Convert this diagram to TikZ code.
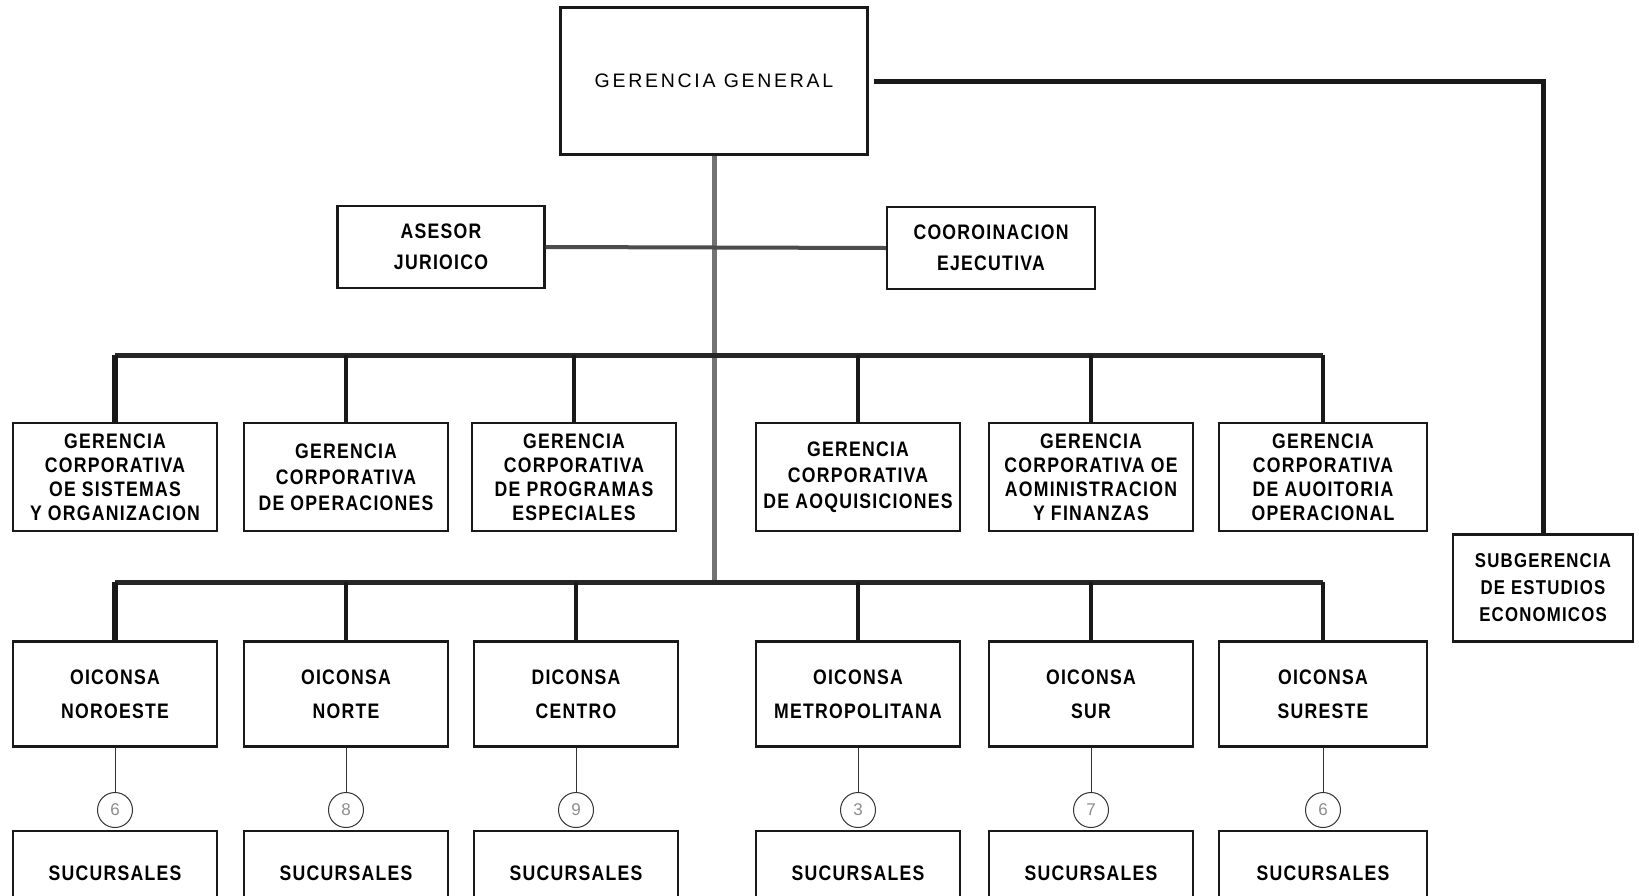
\documentclass[tikz,border=0pt]{standalone}
\usepackage{fontspec}
\setmainfont{Liberation Sans}
\newfontfamily\condfont{Liberation Sans}[FakeStretch=0.84,LetterSpace=6]
\newfontfamily\wideface{Liberation Sans}[LetterSpace=14]
\usetikzlibrary{calc}

\begin{document}
\begin{tikzpicture}[x=1pt,y=-1pt,
  unit/.style={rectangle, draw=black!90, line width=2.2pt, minimum width=204pt,
    align=center, inner sep=0pt, font=\condfont\bfseries\fontsize{21}{24}\selectfont},
  gerbox/.style={unit, minimum height=108pt},
  regbox/.style={unit, minimum height=105pt, font=\condfont\bfseries\fontsize{21}{34}\selectfont},
  sucbox/.style={unit, minimum height=84pt},
  staffbox/.style={unit, minimum width=207pt, minimum height=82pt,
    font=\condfont\bfseries\fontsize{21}{31}\selectfont},
  count/.style={circle, draw=black!80, line width=1pt, minimum size=35pt, inner sep=0pt,
    text=black!45, font=\fontsize{17}{17}\selectfont},
  bus/.style={draw=black!85, line width=5pt},
  drop/.style={draw=black!90, line width=4pt},
  thinlink/.style={draw=black!80, line width=1pt}]

  \useasboundingbox (0,0) rectangle (1639,895);
  \clip (0,0) rectangle (1639,895);

  \coordinate (upbus) at (0,355);
  \coordinate (lowbus) at (0,582);
  \coordinate (knot) at (0,810);

  \node[unit, minimum width=307pt, minimum height=147pt,
    font=\wideface\fontsize{19.5}{22}\selectfont] at (714,81) (gg) {GERENCIA GENERAL};

  \node[staffbox] at (441,247) (ase) {ASESOR\\JURIOICO};
  \node[staffbox, minimum width=208pt] at (991,248) (coo) {COOROINACION\\EJECUTIVA};

  \node[unit, minimum width=180pt, minimum height=107pt,
    font=\condfont\bfseries\fontsize{20}{27}\selectfont] at (1543,588) (sub)
    {SUBGERENCIA\\DE ESTUDIOS\\ECONOMICOS};

  \node[gerbox] at (115,477) (g1) {GERENCIA\\CORPORATIVA\\OE SISTEMAS\\Y ORGANIZACION};
  \node[gerbox, font=\condfont\bfseries\fontsize{21}{26}\selectfont] at (346,477) (g2)
    {GERENCIA\\CORPORATIVA\\DE OPERACIONES};
  \node[gerbox] at (574,477) (g3) {GERENCIA\\CORPORATIVA\\DE PROGRAMAS\\ESPECIALES};
  \node[gerbox, font=\condfont\bfseries\fontsize{21}{26}\selectfont] at (858,477) (g4)
    {GERENCIA\\CORPORATIVA\\DE AOQUISICIONES};
  \node[gerbox] at (1091,477) (g5) {GERENCIA\\CORPORATIVA OE\\AOMINISTRACION\\Y FINANZAS};
  \node[gerbox, minimum width=208pt] at (1323,477) (g6)
    {GERENCIA\\CORPORATIVA\\DE AUOITORIA\\OPERACIONAL};

  \node[regbox] at (115,694) (r1) {OICONSA\\NOROESTE};
  \node[regbox] at (346,694) (r2) {OICONSA\\NORTE};
  \node[regbox] at (576,694) (r3) {DICONSA\\CENTRO};
  \node[regbox] at (858,694) (r4) {OICONSA\\METROPOLITANA};
  \node[regbox] at (1091,694) (r5) {OICONSA\\SUR};
  \node[regbox, minimum width=208pt] at (1323,694) (r6) {OICONSA\\SURESTE};

  \node[count] at (r1.south |- knot) (n1) {6};
  \node[count] at (r2.south |- knot) (n2) {8};
  \node[count] at (r3.south |- knot) (n3) {9};
  \node[count] at (r4.south |- knot) (n4) {3};
  \node[count] at (r5.south |- knot) (n5) {7};
  \node[count] at (r6.south |- knot) (n6) {6};

  \node[sucbox] at (115,873) (s1) {SUCURSALES};
  \node[sucbox] at (346,873) (s2) {SUCURSALES};
  \node[sucbox] at (576,873) (s3) {SUCURSALES};
  \node[sucbox] at (858,873) (s4) {SUCURSALES};
  \node[sucbox] at (1091,873) (s5) {SUCURSALES};
  \node[sucbox, minimum width=208pt] at (1323,873) (s6) {SUCURSALES};

  \draw[draw=black!55, line width=5pt] (gg.south) -- (gg.south |- lowbus);
  \draw[draw=black!70, line width=4pt] (ase.east) -- (coo.west);
  \draw[draw=black!90, line width=5pt] ([xshift=5pt]gg.east) -| (sub.north);

  \draw[bus] (g1.north |- upbus) -- (g6.north |- upbus);
  \draw[drop, line width=6pt] (g1.north |- upbus) -- (g1.north);
  \draw[drop] (g2.north |- upbus) -- (g2.north);
  \draw[drop] (g3.north |- upbus) -- (g3.north);
  \draw[drop] (g4.north |- upbus) -- (g4.north);
  \draw[drop] (g5.north |- upbus) -- (g5.north);
  \draw[drop] (g6.north |- upbus) -- (g6.north);

  \draw[bus] (r1.north |- lowbus) -- (r6.north |- lowbus);
  \draw[drop, line width=6pt] (r1.north |- lowbus) -- (r1.north);
  \draw[drop] (r2.north |- lowbus) -- (r2.north);
  \draw[drop] (r3.north |- lowbus) -- (r3.north);
  \draw[drop] (r4.north |- lowbus) -- (r4.north);
  \draw[drop] (r5.north |- lowbus) -- (r5.north);
  \draw[drop] (r6.north |- lowbus) -- (r6.north);

  \draw[thinlink] (r1.south) -- (n1.north);
  \draw[thinlink] (r2.south) -- (n2.north);
  \draw[thinlink] (r3.south) -- (n3.north);
  \draw[thinlink] (r4.south) -- (n4.north);
  \draw[thinlink] (r5.south) -- (n5.north);
  \draw[thinlink] (r6.south) -- (n6.north);
\end{tikzpicture}
\end{document}
